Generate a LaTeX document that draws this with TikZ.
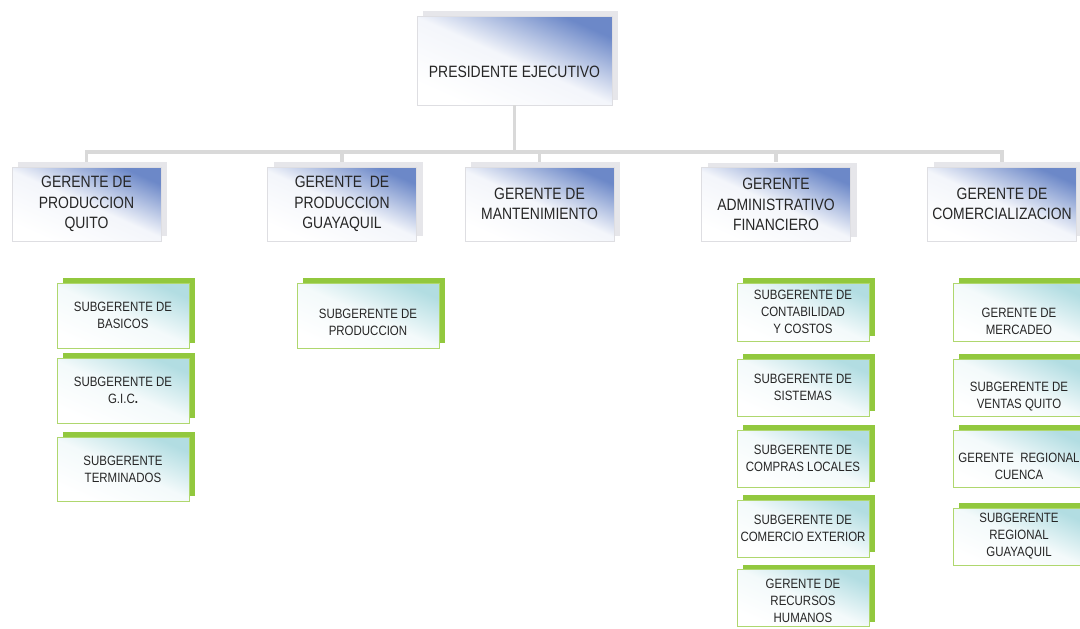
\documentclass[tikz,border=0pt]{standalone}
\usepackage{fontspec}
\newfontfamily\orgfont{Liberation Sans}[FakeStretch=0.85]
\usetikzlibrary{shadows}

\definecolor{gblue}{RGB}{108,136,200}
\definecolor{gshade}{RGB}{230,230,234}
\definecolor{gborder}{RGB}{222,222,226}
\definecolor{steal}{RGB}{178,221,226}
\definecolor{sgreen}{RGB}{146,200,62}
\definecolor{sborder}{RGB}{175,215,110}
\definecolor{connc}{RGB}{217,217,217}
\definecolor{txt}{RGB}{38,38,38}

\tikzset{
	gerente/.style={draw=gborder, line width=0.8pt, minimum width=149, minimum height=74,
		top color=gblue, bottom color=white, middle color=gblue!8!white, shading angle=-24,
		general shadow={fill=gshade, shadow xshift=6pt, shadow yshift=5pt},
		align=center, text=txt, inner sep=0pt, font=\orgfont\fontsize{16.4}{20.5}\selectfont},
	subg/.style={draw=sborder, line width=1pt, minimum width=132, minimum height=57,
		top color=steal, bottom color=white, middle color=steal!15!white, shading angle=-24,
		general shadow={fill=sgreen, shadow xshift=6pt, shadow yshift=5pt},
		align=center, text=txt, inner sep=0pt, font=\orgfont\fontsize{13.5}{17}\selectfont},
	gtext/.style={align=center, text=txt, inner sep=0pt, font=\orgfont\fontsize{16.4}{20.5}\selectfont},
	stext/.style={align=center, text=txt, inner sep=0pt, font=\orgfont\fontsize{13.5}{17}\selectfont},
	conn/.style={draw=connc, line width=3.5pt},
}

\begin{document}
\begin{tikzpicture}[x=1pt,y=-1pt]
	\useasboundingbox (0,0) rectangle (1080,629);
	\clip (0,0) rectangle (1080,629);
	
	%presidente
	\node[gerente, minimum width=195, minimum height=89] (pres) at (514.5,60.5) {};
	\node[gtext] (pres-t) at (514.5,72) {PRESIDENTE EJECUTIVO};
	
	%gerentes
	\node[gerente] (g1) at (86.5,204) {GERENTE DE\\PRODUCCION\\QUITO};
	\node[gerente] (g2) at (342,204) {GERENTE\ \ DE\\PRODUCCION\\GUAYAQUIL};
	\node[gerente] (g3) at (539.5,204) {GERENTE DE\\MANTENIMIENTO};
	\node[gerente] (g4) at (776,204.5) {GERENTE\\ADMINISTRATIVO\\FINANCIERO};
	\node[gerente] (g5) at (1002,204) {GERENTE DE\\COMERCIALIZACION};
	
	%lineas
	\coordinate (bar) at (514.5,152);
	\draw[conn] (pres.south) -- (bar);
	\draw[conn] ([yshift=5pt]g1.north) |- (bar) -| ([yshift=5pt]g5.north);
	\draw[conn] ([yshift=5pt]g2.north) -- (g2.north |- bar);
	\draw[conn] ([yshift=5pt]g3.north) -- (g3.north |- bar);
	\draw[conn] ([yshift=5pt]g4.north) -- (g4.north |- bar);
	
	%produccion quito
	\node[subg, minimum height=65] (s1) at (123,315.5) {SUBGERENTE DE\\BASICOS};
	\node[subg, minimum height=65] (s2) at (123,390.5) {SUBGERENTE DE\\G.I.C\textbf{.}};
	\node[subg, minimum height=64] (s3) at (123,469) {SUBGERENTE\\TERMINADOS};
	
	%produccion guayaquil
	\node[subg, minimum width=142, minimum height=65] (p1) at (368,315.5) {};
	\node[stext] (p1-t) at (368,322.5) {SUBGERENTE DE\\PRODUCCION};
	
	%administrativo financiero
	\node[subg, minimum height=58] (a1) at (803,312) {SUBGERENTE DE\\CONTABILIDAD\\Y COSTOS};
	\node[subg] (a2) at (803,387.5) {SUBGERENTE DE\\SISTEMAS};
	\node[subg] (a3) at (803,458.5) {SUBGERENTE DE\\COMPRAS LOCALES};
	\node[subg] (a4) at (803,528.5) {SUBGERENTE DE\\COMERCIO EXTERIOR};
	\node[subg] (a5) at (803,598) {};
	\node[stext] (a5-t) at (803,601) {GERENTE DE\\RECURSOS\\HUMANOS};
	
	%comercializacion
	\node[subg, minimum height=58] (c1) at (1019,312) {};
	\node[stext] (c1-t) at (1019,321) {GERENTE DE\\MERCADEO};
	\node[subg] (c2) at (1019,387.5) {};
	\node[stext] (c2-t) at (1019,396.5) {SUBGERENTE DE\\VENTAS QUITO};
	\node[subg] (c3) at (1019,458.5) {};
	\node[stext] (c3-t) at (1019,466.5) {GERENTE\ \ REGIONAL\\CUENCA};
	\node[subg] (c4) at (1019,536.5) {SUBGERENTE\\REGIONAL\\GUAYAQUIL};
	
\end{tikzpicture}
\end{document}
